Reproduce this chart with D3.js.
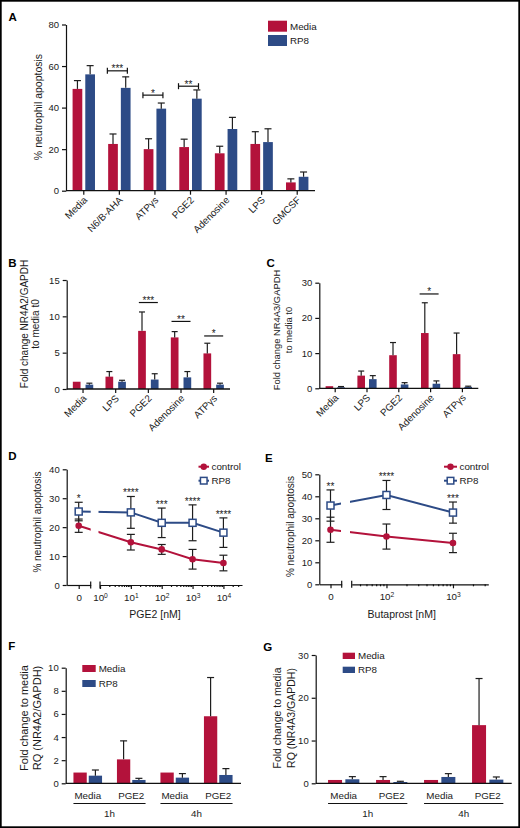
<!DOCTYPE html>
<html><head><meta charset="utf-8">
<script src="https://cdn.jsdelivr.net/npm/d3@7"></script>
<style>
body{margin:0;background:#fff;}
svg text{font-family:"Liberation Sans",Arial,Helvetica,sans-serif;}
</style></head><body>
<svg id="fig" width="520" height="828"></svg>
<script>
// ---------- DATA ----------
// Panel A
const aCategories = ["Media","N6/B-AHA","ATPγs","PGE2","Adenosine","LPS","GMCSF"];
const aMedia    = [49, 22.5, 20, 21, 18, 22.5, 4];
const aMediaErr = [4, 4.8, 5, 3.8, 3.4, 5.9, 1.7];
const aRP8      = [56, 49.5, 39.5, 44.3, 29.7, 23.4, 6.7];
const aRP8Err   = [4.2, 5.3, 2.7, 4.2, 5.6, 6.4, 2.3];
const aTicks    = [0, 20, 40, 60, 80];
const aSigCats  = ["N6/B-AHA","ATPγs","PGE2"];
const aSigLabels= ["***","*","**"];
const aSigLevel = [57.7, 46, 50.3];

// Panel B
const bCategories = ["Media","LPS","PGE2","Adenosine","ATPγs"];
const bMedia    = [1.0, 1.7, 8.0, 7.1, 4.9];
const bMediaErr = [0, 0.7, 2.6, 0.8, 1.4];
const bRP8      = [0.6, 1.0, 1.3, 1.6, 0.6];
const bRP8Err   = [0.2, 0.2, 0.8, 0.8, 0.2];
const bTicks    = [0, 5, 10, 15];
const bSigCats  = ["PGE2","Adenosine","ATPγs"];
const bSigLabels= ["***","**","*"];
const bSigLevel = [11.9, 9.3, 7.3];

// Panel C
const cCategories = ["Media","LPS","PGE2","Adenosine","ATPγs"];
const cMedia    = [0.6, 3.6, 9.4, 15.7, 9.7];
const cMediaErr = [0, 1.3, 3.6, 8.6, 6.0];
const cRP8      = [0.3, 2.6, 1.1, 1.3, 0.4];
const cRP8Err   = [0.2, 1.0, 0.5, 0.8, 0.2];
const cTicks    = [0, 10, 20, 30];
const cSigCats  = ["Adenosine"];
const cSigLabels= ["*"];
const cSigLevel = [26.8];

// Panel D (PGE2 dose, nM)
const dDoses      = [0, 10, 100, 1000, 10000];
const dControl    = [20.5, 14.8, 12.3, 8.9, 7.6];
const dControlErr = [2.3, 2.7, 1.7, 3.4, 2.7];
const dRP8        = [25.4, 25.1, 21.5, 21.5, 18.1];
const dRP8Err     = [3.2, 5.5, 5.1, 6.2, 5.1];
const dStars      = ["*","****","***","****","****"];
const dTicks      = [0, 10, 20, 30, 40];

// Panel E (Butaprost dose, nM)
const eDoses      = [0, 100, 1000];
const eControl    = [24.8, 21.7, 18.8];
const eControlErr = [5.7, 5.7, 4.4];
const eRP8        = [35.8, 40.6, 32.6];
const eRP8Err     = [7.1, 6.6, 4.8];
const eStars      = ["**","****","***"];
const eTicks      = [0, 10, 20, 30, 40, 50];

// Panel F
const fCategories = ["Media","PGE2","Media","PGE2"];
const fTimes      = ["1h","4h"];
const fMedia      = [0.93, 2.07, 0.93, 5.8];
const fMediaErr   = [0, 1.6, 0, 3.35];
const fRP8        = [0.66, 0.29, 0.49, 0.72];
const fRP8Err     = [0.49, 0.14, 0.35, 0.55];
const fTicks      = [0, 2, 4, 6, 8, 10];

// Panel G
const gCategories = ["Media","PGE2","Media","PGE2"];
const gTimes      = ["1h","4h"];
const gMedia      = [0.78, 0.78, 0.78, 13.6];
const gMediaErr   = [0, 0.78, 0, 10.9];
const gRP8        = [0.94, 0.3, 1.48, 0.86];
const gRP8Err     = [0.62, 0.17, 0.78, 0.62];
const gTicks      = [0, 10, 20, 30];

// ---------- STYLE ----------
const RED = "#b3123b", BLUE = "#2d4b86", ERR = "#1e1e1e", AX = "#111", TXT = "#1a1a1a";
const FONT = '"Liberation Sans", Arial, Helvetica, sans-serif';
const TICKFS = 9.5;
const svg = d3.select("#fig");

svg.append("rect").attr("x",0.85).attr("y",0.85).attr("width",518.3).attr("height",826.3)
  .attr("fill","#fff").attr("stroke","#000").attr("stroke-width",1.7);

function styleAxis(ax, fs){
  ax.attr("font-family", FONT).attr("font-size", fs || TICKFS);
  ax.selectAll("path,line").attr("stroke", AX).attr("stroke-width", 1.2);
  ax.selectAll("text").attr("fill", TXT);
}
function panelLetter(t, x, y){
  svg.append("text").attr("x",x).attr("y",y).attr("font-size",11.5).attr("font-weight","bold")
    .attr("fill","#000").text(t);
}
function yTitle(lines, cx, cy, fs){
  lines.forEach((l, i) => {
    svg.append("text")
      .attr("transform", `translate(${cx[i]},${cy}) rotate(-90)`)
      .attr("text-anchor","middle").attr("dy","0.35em")
      .attr("font-size", fs).attr("fill", TXT).text(l);
  });
}

// generic grouped bar panel
function barPanel(cfg){
  const g = svg.append("g");
  const y = d3.scaleLinear().domain([0, cfg.yMax]).range([cfg.yBottom, cfg.yTop]);
  const idx = d3.range(cfg.cats.length);
  const x = d3.scaleBand().domain(idx).range([cfg.bx0, cfg.bx1]);
  const gw = 2*cfg.barW + cfg.gap;
  const sub = d3.scaleBand().domain(["Media","RP8"]).range([0, gw])
      .paddingInner(cfg.gap/(cfg.barW+cfg.gap));
  const off = (x.bandwidth() - gw)/2;
  const series = [
    {key:"Media", vals:cfg.media, errs:cfg.mediaErr, color:RED},
    {key:"RP8", vals:cfg.rp8, errs:cfg.rp8Err, color:BLUE}
  ];
  series.forEach(s => {
    const bx = i => x(i) + off + sub(s.key);
    g.append("g").selectAll("rect").data(idx).join("rect")
      .attr("x", i => bx(i)).attr("width", sub.bandwidth())
      .attr("y", i => y(s.vals[i])).attr("height", i => y(0) - y(s.vals[i]))
      .attr("fill", s.color);
    const eg = g.append("g").attr("stroke", ERR).attr("stroke-width", 1.2);
    idx.filter(i => s.errs[i] > 0).forEach(i => {
      const cx = bx(i) + sub.bandwidth()/2;
      eg.append("line").attr("x1",cx).attr("x2",cx)
        .attr("y1", y(s.vals[i])).attr("y2", y(s.vals[i]+s.errs[i]));
      eg.append("line").attr("x1",cx-cfg.capW/2).attr("x2",cx+cfg.capW/2)
        .attr("y1", y(s.vals[i]+s.errs[i])).attr("y2", y(s.vals[i]+s.errs[i]));
    });
  });
  const ay = g.append("g").attr("transform",`translate(${cfg.ax0},0)`)
    .call(d3.axisLeft(y).tickValues(cfg.yTicks).tickSize(4).tickPadding(3).tickSizeOuter(0));
  styleAxis(ay);
  g.append("line").attr("x1",cfg.ax0).attr("x2",cfg.ax1).attr("y1",y(0)).attr("y2",y(0))
    .attr("stroke",AX).attr("stroke-width",1.3);
  if (cfg.rotate){
    const ax = g.append("g").attr("transform",`translate(0,${y(0)})`)
      .call(d3.axisBottom(x).tickSize(4).tickFormat("").tickSizeOuter(0));
    ax.select(".domain").remove();
    styleAxis(ax);
    g.append("g").selectAll("text").data(idx).join("text")
      .attr("transform", i => `translate(${x(i)+x.bandwidth()/2+4},${y(0)+10}) rotate(-45)`)
      .attr("text-anchor","end").attr("font-size", cfg.labelFs || 9.5).attr("fill",TXT)
      .text(i => cfg.cats[i]);
  } else {
    g.append("g").selectAll("text").data(idx).join("text")
      .attr("x", i => x(i)+x.bandwidth()/2).attr("y", cfg.labelY)
      .attr("text-anchor","middle").attr("font-size", 9.8).attr("fill",TXT)
      .text(i => cfg.cats[i]);
    cfg.times.forEach((t, k) => {
      const i0 = 2*k, i1 = 2*k+1;
      const xs = x(i0)+off, xe = x(i1)+off+gw;
      g.append("line").attr("x1",xs).attr("x2",xe).attr("y1",cfg.groupLineY).attr("y2",cfg.groupLineY)
        .attr("stroke",AX).attr("stroke-width",1.1);
      g.append("text").attr("x",(xs+xe)/2).attr("y",cfg.groupLineY+13.5)
        .attr("text-anchor","middle").attr("font-size",9.8).attr("fill",TXT).text(t);
    });
  }
  if (cfg.sigCats){
    cfg.sigCats.forEach((c, k) => {
      const i = cfg.cats.indexOf(c);
      const cx = x(i) + x.bandwidth()/2 + cfg.sigShift;
      const ly = y(cfg.sigLevel[k]);
      const hw = cfg.sigHalf;
      const sg = g.append("g").attr("stroke",AX).attr("stroke-width",1.2);
      sg.append("line").attr("x1",cx-hw).attr("x2",cx+hw).attr("y1",ly).attr("y2",ly);
      if (cfg.sigEnds){
        sg.append("line").attr("x1",cx-hw).attr("x2",cx-hw).attr("y1",ly-3).attr("y2",ly+3);
        sg.append("line").attr("x1",cx+hw).attr("x2",cx+hw).attr("y1",ly-3).attr("y2",ly+3);
      }
      g.append("text").attr("x",cx).attr("y",ly+1.5).attr("text-anchor","middle")
        .attr("font-size",10).attr("fill",TXT).text(cfg.sigLabels[k]);
    });
  }
  return {g, x, y};
}

function legendBars(x, y1, y2, w, h, fs){
  [[RED,"Media",y1],[BLUE,"RP8",y2]].forEach(([c,t,yy]) => {
    svg.append("rect").attr("x",x).attr("y",yy).attr("width",w).attr("height",h).attr("fill",c);
    svg.append("text").attr("x",x+w+3).attr("y",yy+h/2).attr("dy","0.35em")
      .attr("font-size",fs).attr("fill",TXT).text(t);
  });
}

// ---------- PANEL A ----------
panelLetter("A", 8.5, 21);
barPanel({cats:aCategories, media:aMedia, mediaErr:aMediaErr, rp8:aRP8, rp8Err:aRP8Err,
  yMax:80, yTop:24.5, yBottom:190.7, yTicks:aTicks, bx0:66, bx1:315, ax0:66, ax1:315,
  barW:9.7, gap:3, capW:7, rotate:true, labelFs:9.8,
  sigCats:aSigCats, sigLabels:aSigLabels, sigLevel:aSigLevel, sigHalf:10, sigShift:-2, sigEnds:true});
legendBars(268, 20.7, 35, 19, 11, 9.8);
yTitle(["% neutrophil apoptosis"], [38], 107, 10.5);

// ---------- PANEL B ----------
panelLetter("B", 8.3, 266.7);
barPanel({cats:bCategories, media:bMedia, mediaErr:bMediaErr, rp8:bRP8, rp8Err:bRP8Err,
  yMax:15, yTop:280, yBottom:389, yTicks:bTicks, bx0:66.7, bx1:230, ax0:66.7, ax1:230,
  barW:7.7, gap:5, capW:6, rotate:true, labelFs:9.8,
  sigCats:bSigCats, sigLabels:bSigLabels, sigLevel:bSigLevel, sigHalf:9.5, sigShift:0, sigEnds:false});
yTitle(["Fold change NR4A2/GAPDH","to media t0"], [24.3, 35.5], 324, 10);

// ---------- PANEL C ----------
panelLetter("C", 266.5, 267);
barPanel({cats:cCategories, media:cMedia, mediaErr:cMediaErr, rp8:cRP8, rp8Err:cRP8Err,
  yMax:30, yTop:282.7, yBottom:388.3, yTicks:cTicks, bx0:319.3, bx1:478.3, ax0:319.3, ax1:478.3,
  barW:7.6, gap:4, capW:6, rotate:true, labelFs:9.8,
  sigCats:cSigCats, sigLabels:cSigLabels, sigLevel:cSigLevel, sigHalf:9.5, sigShift:-1.5, sigEnds:false});
yTitle(["Fold change NR4A3/GAPDH","to media t0"], [276.7, 288.3], 330, 9.4);

// ---------- DOSE-RESPONSE PANELS ----------
function dosePanel(cfg){
  const g = svg.append("g");
  const y = d3.scaleLinear().domain([0, cfg.yMax]).range([cfg.yBottom, cfg.yTop]);
  const xz = d3.scaleLinear().domain([-1, 1]).range([cfg.zx0, cfg.zx1]);
  const xl = d3.scaleLog().domain(cfg.logDomain).range([cfg.lx0, cfg.lx1]);
  const X = d => d === 0 ? xz(0) : xl(d);
  const Y0 = y(0);

  const ay = g.append("g").attr("transform",`translate(${cfg.zx0},0)`)
    .call(d3.axisLeft(y).tickValues(cfg.yTicks).tickSize(4).tickPadding(3).tickSizeOuter(0));
  styleAxis(ay);
  const az = g.append("g").attr("transform",`translate(0,${Y0})`)
    .call(d3.axisBottom(xz).tickValues([0]).tickFormat(d3.format("d")).tickSize(4).tickPadding(5).tickSizeOuter(0));
  styleAxis(az, 9.8);
  const al = g.append("g").attr("transform",`translate(0,${Y0})`)
    .call(d3.axisBottom(xl).tickValues(cfg.majors).tickSize(4).tickPadding(5).tickSizeOuter(0));
  styleAxis(al, 9.8);
  al.selectAll(".tick text").each(function(d){
    const t = d3.select(this); t.text(null);
    t.append("tspan").text("10");
    t.append("tspan").attr("dy","-0.45em").attr("font-size","0.68em").text(Math.round(Math.log10(d)));
  });
  const am = g.append("g").attr("transform",`translate(0,${Y0})`)
    .call(d3.axisBottom(xl).tickValues(cfg.minors).tickSize(2).tickFormat("").tickSizeOuter(0));
  styleAxis(am);
  am.select(".domain").remove();
  [cfg.zx1, cfg.lx0].forEach(bx => {
    g.append("line").attr("x1",bx).attr("x2",bx).attr("y1",Y0-3.5).attr("y2",Y0+3.5)
      .attr("stroke",AX).attr("stroke-width",1.2);
  });
  g.append("text").attr("x",cfg.titleX).attr("y",cfg.titleY).attr("text-anchor","middle")
    .attr("font-size",10.5).attr("fill",TXT).text(cfg.title);

  const cid = "clip" + cfg.id;
  const cp = svg.append("defs").append("clipPath").attr("id", cid);
  cp.append("rect").attr("x",cfg.zx0-20).attr("y",0).attr("width",cfg.gap0-(cfg.zx0-20)).attr("height",828);
  cp.append("rect").attr("x",cfg.gap1).attr("y",0).attr("width",520-cfg.gap1).attr("height",828);

  const series = [
    {vals:cfg.control, errs:cfg.controlErr, color:RED, marker:"circle"},
    {vals:cfg.rp8, errs:cfg.rp8Err, color:BLUE, marker:"square"}
  ];
  const line = d3.line().x((d,i) => X(cfg.doses[i])).y(d => y(d));
  series.forEach(s => {
    g.append("path").datum(s.vals).attr("d", line).attr("fill","none")
      .attr("stroke", s.color).attr("stroke-width", 2).attr("clip-path",`url(#${cid})`);
  });
  series.forEach(s => {
    const eg = g.append("g").attr("stroke", ERR).attr("stroke-width", 1.2);
    s.vals.forEach((v, i) => {
      const cx = X(cfg.doses[i]);
      const lo = y(v - s.errs[i]), hi = y(v + s.errs[i]);
      eg.append("line").attr("x1",cx).attr("x2",cx).attr("y1",lo).attr("y2",hi);
      eg.append("line").attr("x1",cx-4).attr("x2",cx+4).attr("y1",lo).attr("y2",lo);
      eg.append("line").attr("x1",cx-4).attr("x2",cx+4).attr("y1",hi).attr("y2",hi);
    });
  });
  series.forEach(s => {
    s.vals.forEach((v, i) => {
      const cx = X(cfg.doses[i]), cy = y(v);
      if (s.marker === "circle"){
        g.append("circle").attr("cx",cx).attr("cy",cy).attr("r",3.3).attr("fill",s.color);
      } else {
        g.append("rect").attr("x",cx-3.5).attr("y",cy-3.5).attr("width",7).attr("height",7)
          .attr("fill","#fff").attr("stroke",s.color).attr("stroke-width",1.5);
      }
    });
  });
  cfg.stars.forEach((st, i) => {
    g.append("text").attr("x", X(cfg.doses[i])).attr("y", y(cfg.rp8[i] + cfg.rp8Err[i]))
      .attr("text-anchor","middle").attr("font-size",10).attr("fill",TXT).text(st);
  });
  const L = cfg.legend;
  [[RED,"control",L.y1,"circle"],[BLUE,"RP8",L.y2,"square"]].forEach(([c,t,yy,m]) => {
    g.append("line").attr("x1",L.x0).attr("x2",L.x1).attr("y1",yy).attr("y2",yy)
      .attr("stroke",c).attr("stroke-width",2);
    const mx = (L.x0+L.x1)/2;
    if (m === "circle") g.append("circle").attr("cx",mx).attr("cy",yy).attr("r",3.2).attr("fill",c);
    else g.append("rect").attr("x",mx-3.3).attr("y",yy-3.3).attr("width",6.6).attr("height",6.6)
      .attr("fill","#fff").attr("stroke",c).attr("stroke-width",1.5);
    g.append("text").attr("x",L.x1+2.5).attr("y",yy).attr("dy","0.35em")
      .attr("font-size",9.8).attr("fill",TXT).text(t);
  });
}

// ---------- PANEL D ----------
panelLetter("D", 8.3, 460);
dosePanel({id:"D", doses:dDoses, control:dControl, controlErr:dControlErr, rp8:dRP8, rp8Err:dRP8Err,
  stars:dStars, yMax:40, yTop:469.3, yBottom:585, yTicks:dTicks,
  zx0:66.7, zx1:90.7, lx0:100, lx1:242, logDomain:[1, 40000],
  majors:[1,10,100,1000,10000],
  minors:[2,3,4,5,6,7,8,9,20,30,40,50,60,70,80,90,200,300,400,500,600,700,800,900,2000,3000,4000,5000,6000,7000,8000,9000,20000,30000],
  gap0:90.7, gap1:98.5, title:"PGE2 [nM]", titleX:155, titleY:617.5,
  legend:{x0:198.5, x1:209, y1:466.7, y2:480.7}});
yTitle(["% neutrophil apoptosis"], [37], 522, 10);

// ---------- PANEL E ----------
panelLetter("E", 265, 461.5);
dosePanel({id:"E", doses:eDoses, control:eControl, controlErr:eControlErr, rp8:eRP8, rp8Err:eRP8Err,
  stars:eStars, yMax:50, yTop:474.3, yBottom:584.3, yTicks:eTicks,
  zx0:319.3, zx1:341.7, lx0:351.7, lx1:488.3, logDomain:[30, 3400],
  majors:[100,1000],
  minors:[40,50,60,70,80,90,200,300,400,500,600,700,800,900,2000,3000],
  gap0:341, gap1:350, title:"Butaprost [nM]", titleX:401.7, titleY:617.5,
  legend:{x0:444, x1:457, y1:466.7, y2:480.7}});
yTitle(["% neutrophil apoptosis"], [290.5], 526.5, 10);

// ---------- PANEL F ----------
panelLetter("F", 8.3, 650);
barPanel({cats:fCategories, times:fTimes, media:fMedia, mediaErr:fMediaErr, rp8:fRP8, rp8Err:fRP8Err,
  yMax:10, yTop:667.7, yBottom:783.3, yTicks:fTicks, bx0:66, bx1:240, ax0:65.7, ax1:241,
  barW:13.3, gap:2, capW:7, rotate:false, labelY:799, groupLineY:803.5});
legendBars(82.3, 665, 680, 13.4, 7, 9.8);
yTitle(["Fold change to media","RQ (NR4A2/GAPDH)"], [24.5, 37.5], 718, 11);

// ---------- PANEL G ----------
panelLetter("G", 263.3, 650.7);
barPanel({cats:gCategories, times:gTimes, media:gMedia, mediaErr:gMediaErr, rp8:gRP8, rp8Err:gRP8Err,
  yMax:30, yTop:655, yBottom:783.3, yTicks:gTicks, bx0:319.7, bx1:511.7, ax0:315.7, ax1:511.7,
  barW:14, gap:3.3, capW:7, rotate:false, labelY:799, groupLineY:803.5});
legendBars(342.7, 652.7, 666.7, 12.3, 6.3, 9.8);
yTitle(["Fold change to media","RQ (NR4A3/GAPDH)"], [277.5, 291], 718, 10.5);
</script>
</body></html>
